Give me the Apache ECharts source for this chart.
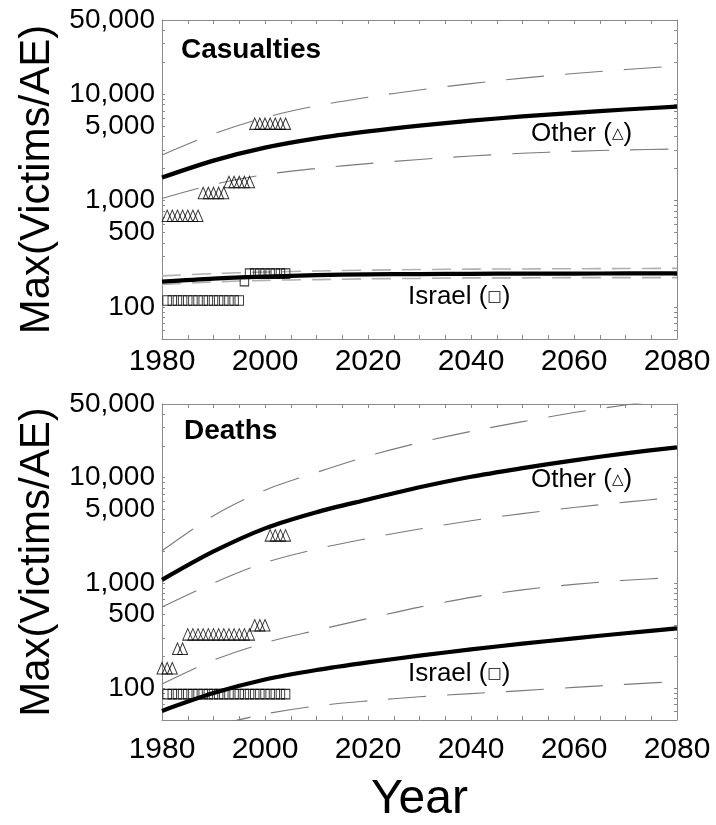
<!DOCTYPE html>
<html>
<head>
<meta charset="utf-8">
<script src="https://cdn.jsdelivr.net/npm/echarts@6/dist/echarts.min.js"></script>
<style>
  html, body { margin: 0; padding: 0; background: #fff; }
  #chart { width: 716px; height: 825px; }
</style>
</head>
<body>
<div id="chart"></div>
<script>
// ---- Fitted trend curves: maximum victims per attack event, by decade ----
const fitYears = [1980, 1990, 2000, 2010, 2020, 2030, 2040, 2050, 2060, 2070, 2080];

// Casualties
const otherCasFit  = [1650, 2380, 3150, 3850, 4480, 5080, 5650, 6200, 6700, 7200, 7650];
const otherCasHi   = [2690, 4250, 6050, 7800, 9400, 11000, 12600, 14200, 15700, 17100, 18500];
const otherCasLo   = [1050, 1420, 1760, 2010, 2230, 2440, 2630, 2790, 2910, 3000, 3060];
const israelCasFit = [173, 185, 193, 199, 203, 204, 205, 206, 206, 207, 207];
const israelCasHi  = [196, 206, 213, 218, 222, 225, 227, 228, 229, 230, 231];
const israelCasLo  = [163, 172, 178, 181, 184, 186, 188, 188, 189, 189, 189];

// Deaths
const otherDeaFit  = [1070, 1990, 3300, 4700, 6200, 8100, 10200, 12300, 14600, 17000, 19400];
const otherDeaHi   = [2020, 4350, 7600, 11200, 16000, 21500, 27500, 34000, 41500, 49000, 57000];
const otherDeaLo   = [590, 1000, 1560, 2100, 2650, 3250, 3900, 4550, 5200, 5850, 6500];
const israelDeaFit = [61, 90, 121, 149, 176, 204, 234, 265, 298, 333, 370];
const israelDeaHi  = [110, 185, 270, 355, 460, 590, 730, 860, 970, 1060, 1130];
const israelDeaLoYears = [1990, 2000, 2010, 2020, 2030, 2040, 2050, 2060, 2070, 2080];
const israelDeaLo  = [44, 57, 68, 76, 83, 89, 95, 102, 109, 116];

// ---- Observed yearly maxima ----
const obsYears = [1981, 1982, 1983, 1984, 1985, 1986, 1987, 1988, 1989, 1990, 1991, 1992,
                  1993, 1994, 1995, 1996, 1997, 1998, 1999, 2000, 2001, 2002, 2003, 2004];
const israelCasObs = [115, 115, 115, 115, 115, 115, 115, 115, 115, 115, 115, 115,
                      115, 115, 115, 175, 206, 206, 206, 206, 206, 206, 206, 206];
const otherCasObs  = [720, 720, 720, 720, 720, 720, 720, 1180, 1180, 1180, 1180, 1180,
                      1500, 1500, 1500, 1500, 1500, 5300, 5300, 5300, 5300, 5300, 5300, 5300];
const israelDeaObs = [88, 88, 88, 88, 88, 88, 88, 88, 88, 88, 88, 88,
                      88, 88, 88, 88, 88, 88, 88, 88, 88, 88, 88, 88];
const otherDeaYears = [1980, 1981, 1982, 1983, 1984, 1985, 1986, 1987, 1988, 1989, 1990, 1991, 1992,
                       1993, 1994, 1995, 1996, 1997, 1998, 1999, 2000, 2001, 2002, 2003, 2004];
const otherDeaObs  = [155, 155, 155, 237, 237, 325, 325, 325, 325, 325, 325, 325, 325,
                      325, 325, 325, 325, 325, 396, 396, 396, 2830, 2830, 2830, 2830];

// ---- Axis ticks ----
const yLabelValues = [100, 500, 1000, 5000, 10000, 50000];
const yTickValues = [50, 60, 70, 80, 90, 100, 200, 300, 400, 500, 600, 700, 800, 900,
                     1000, 2000, 3000, 4000, 5000, 6000, 7000, 8000, 9000,
                     10000, 20000, 30000, 40000, 50000];
const xTickValues = [1980, 1985, 1990, 1995, 2000, 2005, 2010, 2015, 2020, 2025, 2030, 2035,
                     2040, 2045, 2050, 2055, 2060, 2065, 2070, 2075, 2080];

const FONT = '"Liberation Sans", Arial, Helvetica, sans-serif';
const FRAME = '#8a8a8a';

const pairs = (xs, ys) => xs.map((x, i) => [x, ys[i]]);

function xAxisFor(gridIndex, pos, showLabels, labelMargin, withName) {
  const ax = {
    type: 'value', gridIndex, position: pos, min: 1980, max: 2080, interval: 20,
    axisLine: { show: true, onZero: false, lineStyle: { color: FRAME, width: 1 } },
    axisTick: { show: true, inside: true, length: 4, customValues: xTickValues,
                lineStyle: { color: FRAME, width: 1 } },
    axisLabel: { show: showLabels, margin: labelMargin, color: '#000', fontSize: 30,
                 fontFamily: FONT, formatter: v => String(v) },
    splitLine: { show: false }
  };
  if (withName) {
    ax.name = 'Year';
    ax.nameLocation = 'middle';
    ax.nameGap = 56;
    ax.nameTextStyle = { fontSize: 48, color: '#000', fontFamily: FONT };
  }
  return ax;
}

function yAxisFor(gridIndex, pos, showLabels) {
  const ax = {
    type: 'log', logBase: 10, gridIndex, position: pos, min: 50, max: 50000,
    axisLine: { show: true, onZero: false, lineStyle: { color: FRAME, width: 1 } },
    axisTick: { show: true, inside: true, length: 3, customValues: yTickValues,
                lineStyle: { color: FRAME, width: 1 } },
    axisLabel: { show: showLabels, margin: 7, color: '#000', fontSize: 28, fontFamily: FONT,
                 customValues: yLabelValues,
                 formatter: v => Number(v).toLocaleString('en-US') },
    splitLine: { show: false }
  };
  if (showLabels) {
    ax.name = 'Max(Victims/AE)';
    ax.nameLocation = 'middle';
    ax.nameGap = 104;
    ax.nameTextStyle = { fontSize: 42, color: '#000', fontFamily: FONT };
  }
  return ax;
}

function fitLine(name, xi, yi, years, vals, kind) {
  let ls;
  if (kind === 'fit') ls = { color: '#000', width: 4.2, type: 'solid', cap: 'butt' };
  else if (kind === 'band') ls = { color: '#7a7a7a', width: 1.1, type: [38, 21] };
  else ls = { color: '#b0b0b0', width: 1.6, type: [19, 11] };
  return {
    name, type: 'line', xAxisIndex: xi, yAxisIndex: yi, data: pairs(years, vals),
    smooth: 0.3, showSymbol: false, symbol: 'none', clip: true, silent: true,
    lineStyle: ls, z: kind === 'fit' ? 4 : 3
  };
}

function obsScatter(name, xi, yi, years, vals, symbol, size) {
  return {
    name, type: 'scatter', xAxisIndex: xi, yAxisIndex: yi, data: pairs(years, vals),
    symbol, symbolSize: size, clip: false, silent: true, z: 5,
    itemStyle: { color: 'rgba(255,255,255,0)', borderColor: '#000', borderWidth: 1 }
  };
}

const chart = echarts.init(document.getElementById('chart'), null, { renderer: 'canvas' });

const legendRich = { s: { fontSize: 15, fontFamily: '"DejaVu Sans", sans-serif', fill: '#000' } };

const option = {
  animation: false,
  backgroundColor: '#fff',
  grid: [
    { left: 162, right: 39, top: 20, height: 319, show: false },
    { left: 162, right: 39, top: 404, height: 318, show: false }
  ],
  xAxis: [
    xAxisFor(0, 'bottom', true, 8, false),
    xAxisFor(0, 'top', false, 8, false),
    xAxisFor(1, 'bottom', true, 15, true),
    xAxisFor(1, 'top', false, 8, false)
  ],
  yAxis: [
    yAxisFor(0, 'left', true),
    yAxisFor(0, 'right', false),
    yAxisFor(1, 'left', true),
    yAxisFor(1, 'right', false)
  ],
  series: [
    // Casualties panel
    fitLine('Other upper', 0, 0, fitYears, otherCasHi, 'band'),
    fitLine('Other lower', 0, 0, fitYears, otherCasLo, 'band'),
    fitLine('Israel upper', 0, 0, fitYears, israelCasHi, 'narrow'),
    fitLine('Israel lower', 0, 0, fitYears, israelCasLo, 'narrow'),
    fitLine('Other', 0, 0, fitYears, otherCasFit, 'fit'),
    fitLine('Israel', 0, 0, fitYears, israelCasFit, 'fit'),
    obsScatter('Other observed', 0, 0, obsYears, otherCasObs, 'triangle', [10, 11.5]),
    obsScatter('Israel observed', 0, 0, obsYears, israelCasObs, 'rect', [8.5, 9.5]),
    // Deaths panel
    fitLine('Other upper', 2, 2, fitYears, otherDeaHi, 'band'),
    fitLine('Other lower', 2, 2, fitYears, otherDeaLo, 'band'),
    fitLine('Israel upper', 2, 2, fitYears, israelDeaHi, 'band'),
    fitLine('Israel lower', 2, 2, israelDeaLoYears, israelDeaLo, 'band'),
    fitLine('Other', 2, 2, fitYears, otherDeaFit, 'fit'),
    fitLine('Israel', 2, 2, fitYears, israelDeaFit, 'fit'),
    obsScatter('Other observed', 2, 2, otherDeaYears, otherDeaObs, 'triangle', [10, 11.5]),
    obsScatter('Israel observed', 2, 2, obsYears, israelDeaObs, 'rect', [8.5, 9.5])
  ],
  graphic: [
    { type: 'text', left: 181, top: 36, z: 10,
      style: { text: 'Casualties', font: 'bold 28px ' + FONT, fill: '#000' } },
    { type: 'text', left: 184, top: 417, z: 10,
      style: { text: 'Deaths', font: 'bold 28px ' + FONT, fill: '#000' } },
    { type: 'text', left: 531, top: 121, z: 10,
      style: { text: 'Other ({s|△})', font: '26px ' + FONT, fill: '#000', rich: legendRich } },
    { type: 'text', left: 408, top: 284, z: 10,
      style: { text: 'Israel ({s|□})', font: '26px ' + FONT, fill: '#000', rich: legendRich } },
    { type: 'text', left: 531, top: 467, z: 10,
      style: { text: 'Other ({s|△})', font: '26px ' + FONT, fill: '#000', rich: legendRich } },
    { type: 'text', left: 408, top: 661, z: 10,
      style: { text: 'Israel ({s|□})', font: '26px ' + FONT, fill: '#000', rich: legendRich } }
  ]
};

chart.setOption(option);
</script>
</body>
</html>
